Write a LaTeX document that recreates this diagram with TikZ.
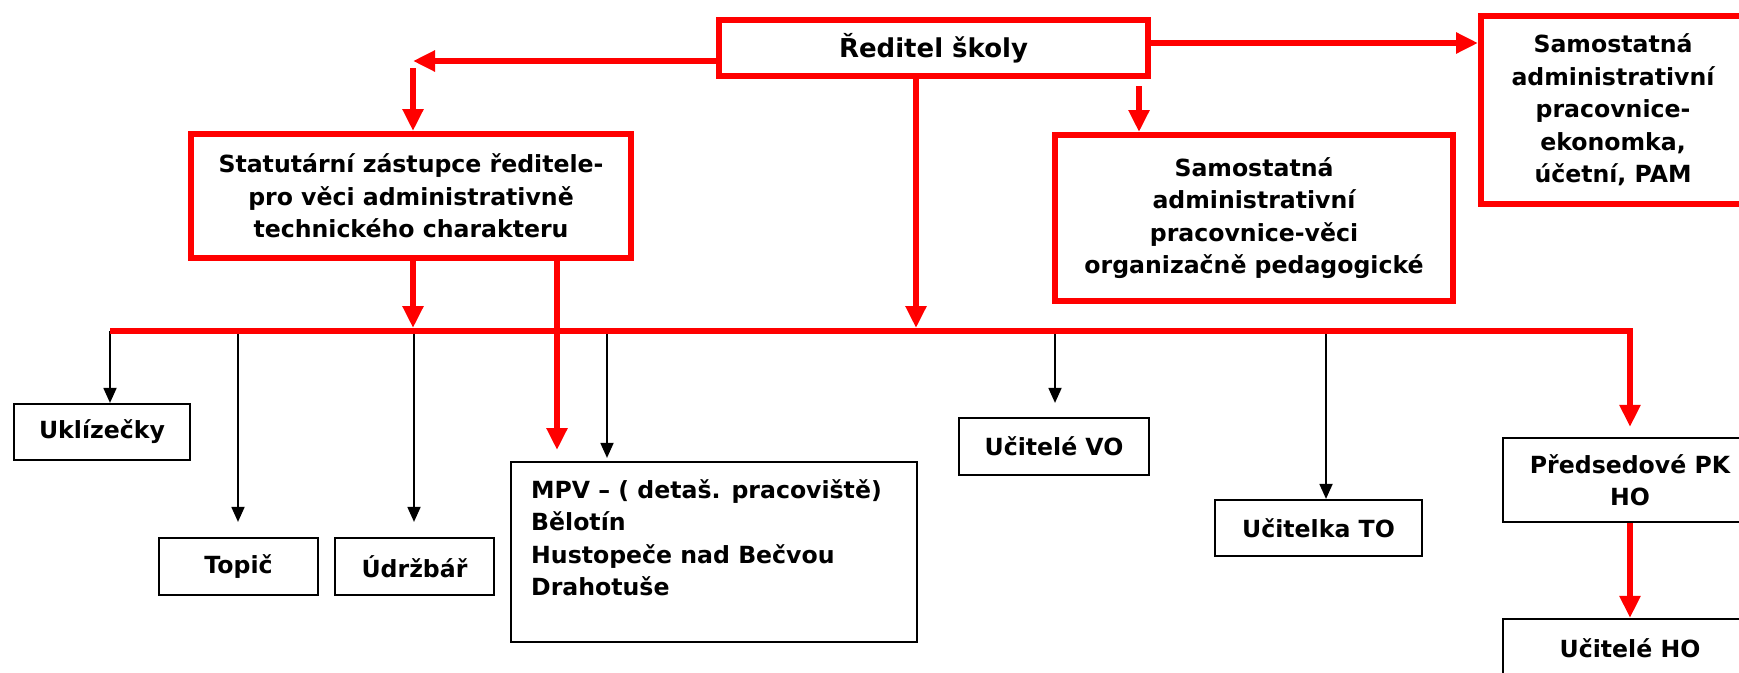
\documentclass[tikz,border=0pt]{standalone}
\usepackage{fontspec}
\setmainfont{DejaVu Sans}
\usetikzlibrary{arrows.meta}

\begin{document}
\begin{tikzpicture}[x=1pt,y=-1pt,
    txt/.style={font=\bfseries\fontsize{23.6}{32.5}\selectfont, align=center},
    redbox/.style={draw=red, line width=6pt, txt, inner sep=0pt},
    blackbox/.style={draw=black, line width=2.2pt, txt, inner sep=0pt},
    redarrow/.style={draw=red, line width=6pt, -{Triangle[length=22pt,width=20pt]}},
    blackarrow/.style={draw=black, line width=1.8pt, -{Triangle[length=15pt,width=13pt]}}]
    % the page is the reference's size, one unit is one pixel
    \useasboundingbox (0,0) rectangle (1739,672);
    \clip (0,0) rectangle (1739,672);
    % top level: the head and the ones under him (red frames)
    \node[redbox, minimum width=429pt, minimum height=56pt,
        font=\bfseries\fontsize{26}{32}\selectfont] (boss) at (933.5,48) {Ředitel školy};
    \node[redbox, minimum width=440pt, minimum height=124pt] (stat) at (411,196)
        {Statutární zástupce ředitele-\\pro věci administrativně\\technického charakteru};
    \node[redbox, minimum width=398pt, minimum height=166pt] (samorg) at (1254,218)
        {Samostatná\\administrativní\\pracovnice-věci\\organizačně pedagogické};
    \node[redbox, minimum width=264pt, minimum height=188pt] (samekon) at (1613,110)
        {Samostatná\\administrativní\\pracovnice-\\ekonomka,\\účetní, PAM};
    % lower level (black frames)
    \node[blackbox, minimum width=176pt, minimum height=56pt] (uklid) at (102,432) {Uklízečky};
    \node[blackbox, minimum width=159pt, minimum height=57pt] (topic) at (238.5,566.5) {Topič};
    \node[blackbox, minimum width=159pt, minimum height=57pt] (udrzba) at (414.5,566.5) {Údržbář};
    \node[blackbox, minimum width=406pt, minimum height=180pt] (mpv) at (714,552) {};
    % the text of the MPV box sits at its top left corner
    \node[txt, align=left, anchor=north west, inner sep=0pt] (mpvtext) at (531,479)
        {MPV – ( detaš. pracoviště)\\Bělotín\\Hustopeče nad Bečvou\\Drahotuše};
    \node[blackbox, minimum width=190pt, minimum height=57pt] (ucvo) at (1054,446.5) {Učitelé VO};
    \node[blackbox, minimum width=207pt, minimum height=56pt] (ucto) at (1318.5,528) {Učitelka TO};
    \node[blackbox, minimum width=254pt, minimum height=84pt] (predpk) at (1630,480) {Předsedové PK\\HO};
    \node[blackbox, minimum width=254pt, minimum height=58pt] (ucho) at (1630,648) {Učitelé HO};
    % the horizontal bus and its ends
    \coordinate (busL) at (110,331);
    \coordinate (busR) at (1630,331);
    % thin drops from the bus: x / box / gap above the box
    \foreach \x/\n/\g in {110/uklid/0, 238/topic/15, 414/udrzba/15,
                          607/mpv/3, 1055/ucvo/14, 1326/ucto/0} {
        \draw[blackarrow, shorten >=\g pt] (busL -| \x,0) -- (\x,0 |- \n.north);
    }
    % red lines
    \coordinate (statin) at (413,61);
    \coordinate (orgtop) at (1139,86);
    \coordinate (mpvin) at (557,450);
    \draw[redarrow] (boss.west |- statin) -- (statin);
    \draw[redarrow] ([yshift=-7pt]statin) -- (statin |- stat.north);
    \draw[redarrow] (boss.east |- 0,43) -- (samekon.west |- 0,43);
    \draw[redarrow] (orgtop) -- (orgtop |- samorg.north);
    \draw[redarrow, shorten >=3pt] (boss.south -| 916,0) -- (busL -| 916,0);
    \draw[redarrow, shorten >=3pt] (stat.south -| statin) -- (busL -| statin);
    \draw[redarrow] (stat.south -| mpvin) -- (mpvin);
    \draw[redarrow, shorten >=10pt] (busL) -- (busR) -- (busR |- predpk.north);
    \draw[redarrow] (predpk) -- (ucho);
\end{tikzpicture}
\end{document}
